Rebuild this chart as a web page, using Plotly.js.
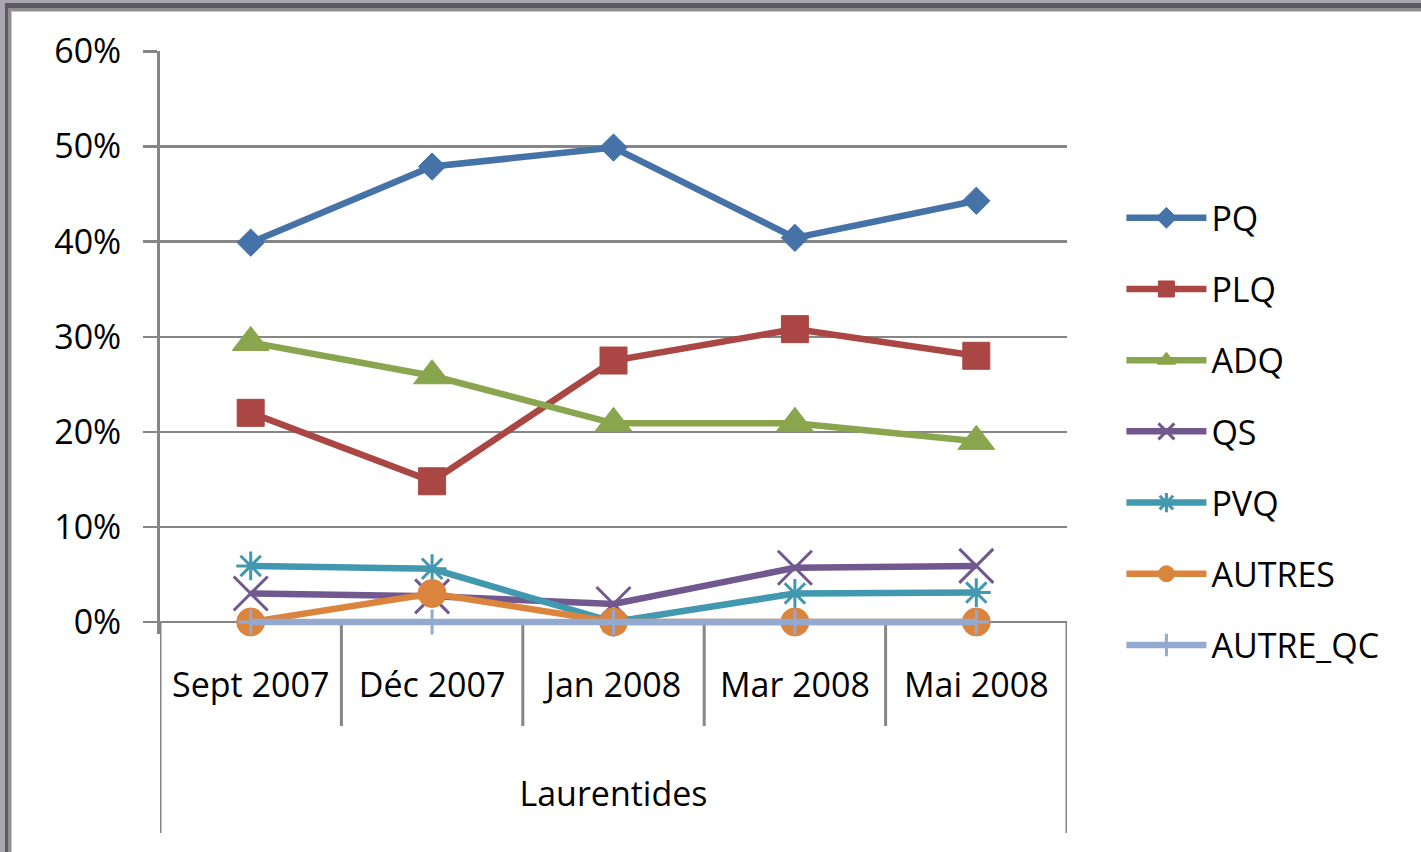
<!DOCTYPE html>
<html>
<head>
<meta charset="utf-8">
<script src="https://cdn.plot.ly/plotly-3.0.1.min.js"></script>
<style>
  html, body { margin: 0; padding: 0; background: #ffffff; overflow: hidden; }
  #plot { position: absolute; left: 0; top: 0; width: 1421px; height: 852px; }
  .f1 { position: absolute; left: 0; top: 0; right: 0; bottom: 0; pointer-events: none;
        border-top: 3px solid #aaa6b1; border-left: 5px solid #aaa6b1; }
  .f2 { position: absolute; left: 0; top: 0; right: 0; bottom: 0;
        border-top: 5px solid #5b5961; border-left: 3px solid #5b5961; }
  .f3 { position: absolute; left: 0; top: 0; right: 0; bottom: 0;
        border-top: 3px solid #8e8e8e; border-left: 3px solid #8e8e8e; }
  .f4 { position: absolute; left: 0; top: 0; right: 0; bottom: 0;
        border-top: 1px solid #c9c9c9; border-left: 1px solid #c9c9c9; }
</style>
</head>
<body>
<div id="plot"></div>
<div class="f1"><div class="f2"><div class="f3"><div class="f4"></div></div></div></div>
<script>
const categories = ['Sept 2007', 'Déc 2007', 'Jan 2008', 'Mar 2008', 'Mai 2008'];
const groupLabel = 'Laurentides';
const seriesNames = ['PQ', 'PLQ', 'ADQ', 'QS', 'PVQ', 'AUTRES', 'AUTRE_QC'];
const PQ       = [0.399, 0.479, 0.499, 0.404, 0.443];
const PLQ      = [0.220, 0.148, 0.275, 0.308, 0.280];
const ADQ      = [0.294, 0.259, 0.209, 0.209, 0.190];
const QS       = [0.030, 0.027, 0.019, 0.057, 0.059];
const PVQ      = [0.059, 0.056, 0.000, 0.030, 0.031];
const AUTRES   = [0.000, 0.030, 0.000, 0.000, 0.000];
const AUTRE_QC = [0.000, 0.000, 0.000, 0.000, 0.000];
const yTickVals = [0, 0.1, 0.2, 0.3, 0.4, 0.5, 0.6];

const values = [PQ, PLQ, ADQ, QS, PVQ, AUTRES, AUTRE_QC];
const colors = ['#4572A7', '#AA4643', '#89A54E', '#71588F', '#4198AF', '#DB843D', '#93A9CF'];
const markers = [
  {symbol: 'diamond', size: 21, open: false},
  {symbol: 'square', size: 27, open: false},
  {symbol: 'triangle-up', size: 32, open: false},
  {symbol: 'x-thin-open', size: 34, open: true},
  {symbol: 'asterisk-open', size: 24, open: true},
  {symbol: 'circle', size: 28, open: false},
  {symbol: 'cross-thin-open', size: 18, open: true}
];

const FONT = '"Open Sans", "DejaVu Sans", sans-serif';
const FS = 34;
const GRID = '#868686';

const traces = seriesNames.map((name, i) => ({
  type: 'scatter',
  mode: 'lines+markers',
  name: name,
  legendgroup: name,
  x: categories,
  y: values[i],
  line: {color: colors[i], width: 6.5},
  marker: {
    symbol: markers[i].symbol,
    size: markers[i].size,
    color: colors[i],
    line: {color: colors[i], width: markers[i].open ? 3 : 1}
  },
  cliponaxis: false
}));

// vertical scale: 60% spans 571 px; plot area extends 12 px below the 0% line
const pxPerUnit = 571 / 0.6;
const extraBelow = 12;
const plotHeight = 571 + extraBelow;
const yTop = 0.6 + 0.5 / pxPerUnit;
const yBottom = -extraBelow / pxPerUnit;
const zeroPaper = extraBelow / plotHeight;
const shortDrop = (extraBelow - 104) / plotHeight;
const longDrop = (extraBelow - 211) / plotHeight;

const shapes = [];
for (let i = 0; i < categories.length - 1; i++) {
  shapes.push({type: 'line', layer: 'below', xref: 'x', yref: 'paper',
    x0: i + 0.5, x1: i + 0.5, y0: zeroPaper, y1: shortDrop, line: {color: GRID, width: 3}});
}
shapes.push({type: 'line', layer: 'below', xref: 'x', yref: 'paper',
  x0: -0.5, x1: -0.5, y0: zeroPaper, y1: longDrop, line: {color: GRID, width: 3}});
shapes.push({type: 'line', layer: 'below', xref: 'x', yref: 'paper',
  x0: categories.length - 0.5, x1: categories.length - 0.5, y0: zeroPaper, y1: longDrop, line: {color: GRID, width: 3}});

const layout = {
  width: 1421, height: 852,
  margin: {l: 160, r: 354, t: 51, b: 852 - 51 - plotHeight},
  paper_bgcolor: 'rgba(0,0,0,0)',
  plot_bgcolor: 'rgba(0,0,0,0)',
  font: {family: FONT, size: FS, color: '#000000'},
  showlegend: true,
  legend: {
    x: 1.060, xanchor: 'left', y: 0.763, yanchor: 'top',
    font: {family: FONT, size: FS, color: '#000000'},
    tracegroupgap: 24, itemwidth: 80, bgcolor: 'rgba(0,0,0,0)', borderwidth: 0
  },
  xaxis: {
    type: 'category', range: [-0.5, categories.length - 0.5],
    showline: false,
    showgrid: false, zeroline: false, ticks: '',
    tickfont: {family: FONT, size: FS, color: '#000000'},
    ticklabelstandoff: 28,
    layer: 'below traces',
    title: {text: groupLabel, font: {family: FONT, size: FS, color: '#000000'}, standoff: 76}
  },
  yaxis: {
    range: [yBottom, yTop], tickvals: yTickVals, tickformat: '.0%',
    showline: true, linecolor: GRID, linewidth: 3,
    showgrid: true, gridcolor: GRID, gridwidth: 2.5, zeroline: false,
    ticks: 'outside', ticklen: 14, tickwidth: 2.5, tickcolor: GRID,
    tickfont: {family: FONT, size: FS, color: '#000000'},
    ticklabelstandoff: 15,
    layer: 'below traces'
  },
  shapes: shapes
};

Plotly.newPlot('plot', traces, layout, {displayModeBar: false, staticPlot: true});
</script>
</body>
</html>
